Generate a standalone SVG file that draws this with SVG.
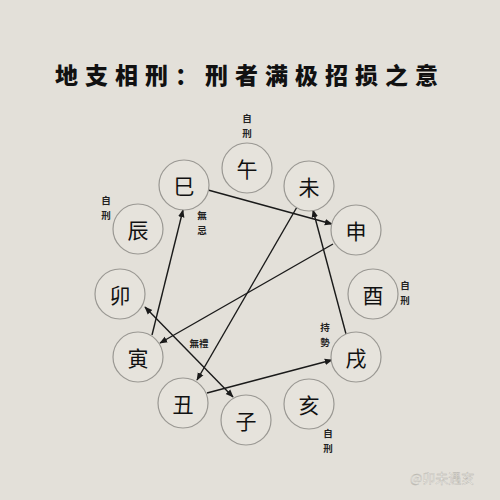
<svg xmlns="http://www.w3.org/2000/svg" width="500" height="500" viewBox="0 0 500 500">
<defs>
<style>
.bg{fill:#e3e0d9}
.node circle{fill:#e6e3dc;stroke:#9a9893;stroke-width:1.2}
.node text{font-family:"Noto Sans CJK SC","Noto Sans CJK TC",sans-serif;font-size:21px;fill:#111;text-anchor:middle;dominant-baseline:central}
.lbl{font-family:"Noto Sans CJK TC","Noto Sans CJK SC",sans-serif;font-size:9.5px;font-weight:bold;fill:#222;text-anchor:middle;dominant-baseline:central}
.edges line{stroke:#1a1a1a;stroke-width:1.4}
.title{font-family:"Noto Sans CJK SC",sans-serif;font-size:23px;font-weight:900;fill:#111;letter-spacing:7px}
.wm{font-family:"Noto Sans CJK SC",sans-serif;font-size:13px;fill:#f4f3ef;stroke:#b8b5ae;stroke-width:0.4}
</style>
<marker id="arr" viewBox="0 0 10 10" refX="9" refY="5" markerWidth="8" markerHeight="8" markerUnits="userSpaceOnUse" orient="auto-start-reverse">
<path d="M0,1 L10,5 L0,9 z" fill="#1a1a1a"/>
</marker>
</defs>
<rect class="bg" x="0" y="0" width="500" height="500"/>
<text class="title" x="55" y="84">地支相刑：刑者满极招损之意</text>

<g class="edges">
<line x1="208" y1="190" x2="332" y2="224" marker-end="url(#arr)"/>
<line x1="333" y1="244" x2="160" y2="343" marker-end="url(#arr)"/>
<line x1="152" y1="335" x2="183" y2="210" marker-end="url(#arr)"/>
<line x1="297" y1="207" x2="197" y2="380" marker-end="url(#arr)"/>
<line x1="207" y1="393" x2="332" y2="360" marker-end="url(#arr)"/>
<line x1="346" y1="334" x2="313" y2="210" marker-end="url(#arr)"/>
<line x1="145" y1="307" x2="233" y2="397" marker-start="url(#arr)" marker-end="url(#arr)"/>
</g>

<g id="n-wu" class="node"><circle cx="247" cy="168" r="25"/><text x="247" y="168">午</text></g>
<g id="n-wei" class="node"><circle cx="309" cy="186" r="25"/><text x="309" y="186">未</text></g>
<g id="n-shen" class="node"><circle cx="356" cy="230" r="25"/><text x="356" y="230">申</text></g>
<g id="n-you" class="node"><circle cx="373" cy="294" r="25"/><text x="373" y="294">酉</text></g>
<g id="n-xu" class="node"><circle cx="356" cy="357" r="25"/><text x="356" y="357">戌</text></g>
<g id="n-hai" class="node"><circle cx="309" cy="404" r="25"/><text x="309" y="404">亥</text></g>
<g id="n-zi" class="node"><circle cx="246" cy="420" r="25"/><text x="246" y="420">子</text></g>
<g id="n-chou" class="node"><circle cx="183" cy="403" r="25"/><text x="183" y="403">丑</text></g>
<g id="n-yin" class="node"><circle cx="138" cy="357" r="25"/><text x="138" y="357">寅</text></g>
<g id="n-mao" class="node"><circle cx="120" cy="294" r="25"/><text x="120" y="294">卯</text></g>
<g id="n-chen" class="node"><circle cx="138" cy="229" r="25"/><text x="138" y="229">辰</text></g>
<g id="n-si" class="node"><circle cx="184" cy="185" r="25"/><text x="184" y="185">巳</text></g>

<g id="labels">
<text class="lbl" x="247" y="118">自</text><text class="lbl" x="247" y="133">刑</text>
<text class="lbl" x="106" y="200">自</text><text class="lbl" x="106" y="215">刑</text>
<text class="lbl" x="202" y="215">無</text><text class="lbl" x="202" y="230">忌</text>
<text class="lbl" x="405" y="285">自</text><text class="lbl" x="405" y="300">刑</text>
<text class="lbl" x="325" y="327">持</text><text class="lbl" x="325" y="342">勢</text>
<text class="lbl" x="328" y="433">自</text><text class="lbl" x="328" y="448">刑</text>
<text class="lbl" x="199" y="343">無禮</text>
</g>
<text class="wm" x="410" y="483">@卯未遇亥</text>
</svg>
